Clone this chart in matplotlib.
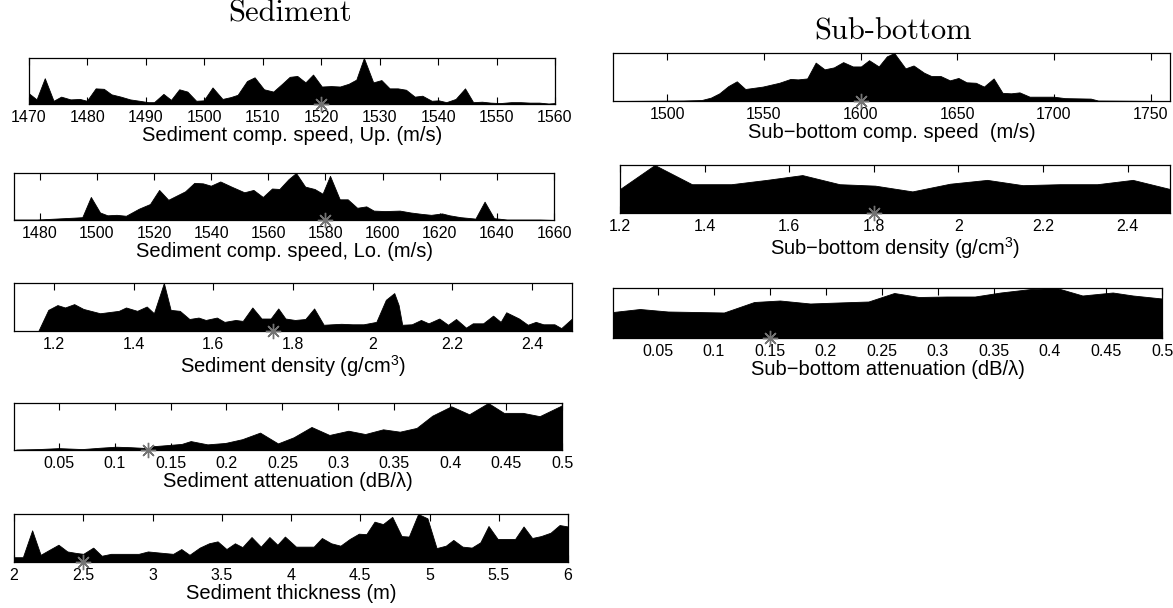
import matplotlib
matplotlib.use("Agg")
import matplotlib.pyplot as plt
from matplotlib.ticker import FormatStrFormatter

# ---- data (relative histogram heights) ----
sed_up_x = [1470.0, 1471.3, 1472.7, 1474.2, 1475.5, 1477.1, 1478.7, 1479.9, 1481.4, 1482.8,
            1484.1, 1485.7, 1487.3, 1488.9, 1490.4, 1491.4, 1493.0, 1494.3, 1495.7, 1497.1,
            1498.6, 1499.9, 1501.4, 1503.1, 1504.5, 1505.7, 1507.3, 1508.6, 1510.2, 1511.8,
            1513.4, 1514.6, 1515.9, 1517.3, 1518.6, 1520.1, 1521.7, 1523.2, 1524.7, 1526.0,
            1527.3, 1528.9, 1530.3, 1531.7, 1533.1, 1534.5, 1536.0, 1537.3, 1538.9, 1540.1,
            1541.4, 1543.0, 1544.6, 1546.0, 1547.5, 1549.0, 1550.6, 1552.5, 1554.1, 1555.7,
            1557.3, 1558.9, 1560.0]
sed_up_h = [0.23, 0.10, 0.56, 0.07, 0.16, 0.10, 0.11, 0.07, 0.34, 0.33,
            0.21, 0.16, 0.10, 0.07, 0.04, 0.04, 0.22, 0.09, 0.32, 0.27,
            0.07, 0.08, 0.36, 0.11, 0.15, 0.20, 0.50, 0.58, 0.32, 0.27,
            0.45, 0.59, 0.61, 0.47, 0.64, 0.38, 0.39, 0.38, 0.44, 0.53,
            1.00, 0.47, 0.52, 0.34, 0.34, 0.31, 0.16, 0.18, 0.07, 0.08,
            0.04, 0.11, 0.34, 0.04, 0.05, 0.03, 0.02, 0.04, 0.04, 0.03,
            0.03, 0.01, 0.02]
sed_up_true = 1520

sed_lo_x = [1471.1, 1479.1, 1485.6, 1492.0, 1494.9, 1497.9, 1501.1, 1503.7, 1506.9, 1510.2,
            1514.7, 1518.6, 1521.8, 1525.0, 1530.9, 1534.1, 1537.1, 1539.9, 1543.2, 1547.1,
            1551.6, 1554.8, 1558.1, 1561.3, 1563.9, 1567.1, 1569.7, 1572.9, 1576.2, 1579.0,
            1581.6, 1585.0, 1587.8, 1591.1, 1594.3, 1596.9, 1600.8, 1606.0, 1609.8, 1613.7,
            1617.0, 1620.8, 1623.4, 1627.3, 1632.5, 1635.7, 1639.0, 1643.5, 1650.0, 1655.1,
            1660.0]
sed_lo_h = [0.01, 0.01, 0.03, 0.05, 0.06, 0.49, 0.16, 0.10, 0.11, 0.09,
            0.24, 0.34, 0.64, 0.43, 0.61, 0.79, 0.78, 0.73, 0.82, 0.71,
            0.59, 0.64, 0.49, 0.67, 0.66, 0.87, 1.00, 0.71, 0.66, 0.56,
            0.94, 0.44, 0.44, 0.26, 0.29, 0.20, 0.19, 0.20, 0.16, 0.13,
            0.11, 0.14, 0.10, 0.06, 0.03, 0.39, 0.04, 0.01, 0.01, 0.01,
            0.00]
sed_lo_true = 1580

sed_rho_x = [1.161, 1.186, 1.209, 1.228, 1.251, 1.274, 1.316, 1.363, 1.381, 1.409,
             1.433, 1.451, 1.476, 1.493, 1.516, 1.540, 1.563, 1.581, 1.609, 1.628,
             1.656, 1.674, 1.698, 1.721, 1.744, 1.763, 1.781, 1.805, 1.831, 1.853,
             1.877, 1.898, 1.921, 1.949, 1.977, 2.009, 2.033, 2.054, 2.065, 2.074,
             2.098, 2.121, 2.140, 2.167, 2.189, 2.209, 2.234, 2.251, 2.277, 2.302,
             2.321, 2.335, 2.367, 2.389, 2.409, 2.428, 2.456, 2.473, 2.500]
sed_rho_h = [0.00, 0.44, 0.54, 0.49, 0.56, 0.46, 0.37, 0.42, 0.49, 0.42,
             0.51, 0.37, 1.00, 0.44, 0.42, 0.25, 0.28, 0.23, 0.28, 0.19,
             0.23, 0.21, 0.49, 0.26, 0.26, 0.47, 0.26, 0.23, 0.25, 0.47,
             0.13, 0.14, 0.15, 0.14, 0.14, 0.19, 0.65, 0.79, 0.54, 0.13,
             0.14, 0.23, 0.16, 0.26, 0.13, 0.25, 0.07, 0.16, 0.16, 0.32,
             0.19, 0.39, 0.26, 0.13, 0.19, 0.14, 0.14, 0.06, 0.26]
sed_rho_true = 1.75

sed_att_x = [0.012, 0.032, 0.050, 0.071, 0.088, 0.101, 0.114, 0.130, 0.134, 0.150,
             0.160, 0.168, 0.183, 0.199, 0.214, 0.230, 0.246, 0.260, 0.276, 0.292,
             0.309, 0.324, 0.340, 0.355, 0.370, 0.384, 0.401, 0.417, 0.434, 0.448,
             0.465, 0.480, 0.500]
sed_att_h = [0.01, 0.02, 0.04, 0.02, 0.05, 0.07, 0.06, 0.04, 0.08, 0.11,
             0.13, 0.19, 0.12, 0.15, 0.23, 0.37, 0.14, 0.27, 0.49, 0.32,
             0.41, 0.34, 0.44, 0.39, 0.47, 0.73, 0.93, 0.76, 1.00, 0.79,
             0.79, 0.72, 0.95]
sed_att_true = 0.13

sed_thk_x = [2.000, 2.064, 2.131, 2.192, 2.259, 2.321, 2.385, 2.446, 2.500, 2.572,
             2.633, 2.700, 2.767, 2.834, 2.900, 2.967, 3.074, 3.149, 3.208, 3.267,
             3.341, 3.408, 3.470, 3.534, 3.595, 3.649, 3.715, 3.782, 3.844, 3.902,
             3.956, 4.036, 4.164, 4.223, 4.290, 4.357, 4.424, 4.490, 4.544, 4.603,
             4.664, 4.731, 4.798, 4.851, 4.918, 4.985, 5.051, 5.118, 5.172, 5.238,
             5.305, 5.367, 5.426, 5.492, 5.559, 5.618, 5.679, 5.741, 5.805, 5.874,
             5.939, 6.000]
sed_thk_h = [0.10, 0.10, 0.66, 0.15, 0.26, 0.36, 0.22, 0.19, 0.17, 0.30,
             0.13, 0.17, 0.17, 0.17, 0.17, 0.22, 0.19, 0.17, 0.27, 0.15,
             0.30, 0.39, 0.43, 0.27, 0.39, 0.31, 0.52, 0.32, 0.52, 0.36,
             0.53, 0.32, 0.32, 0.50, 0.39, 0.34, 0.48, 0.59, 0.58, 0.84,
             0.79, 0.94, 0.54, 0.53, 1.00, 0.91, 0.29, 0.34, 0.46, 0.32,
             0.30, 0.41, 0.75, 0.48, 0.48, 0.48, 0.74, 0.50, 0.54, 0.61,
             0.77, 0.74]
sed_thk_true = 2.5

sub_c_x = [1472.2, 1508.2, 1517.8, 1522.6, 1527.0, 1531.6, 1536.0, 1540.4, 1549.4, 1558.0,
           1563.8, 1567.6, 1572.4, 1576.8, 1581.4, 1586.2, 1591.0, 1596.0, 1600.2, 1604.4,
           1609.4, 1613.6, 1617.4, 1623.2, 1627.4, 1632.8, 1636.6, 1641.4, 1646.2, 1650.6,
           1654.8, 1659.6, 1663.8, 1668.8, 1673.4, 1677.8, 1682.2, 1687.4, 1699.8, 1705.6,
           1719.0, 1722.8, 1760.0]
sub_c_h = [0.00, 0.01, 0.02, 0.07, 0.16, 0.31, 0.41, 0.25, 0.30, 0.38,
           0.46, 0.45, 0.47, 0.80, 0.66, 0.70, 0.81, 0.72, 0.72, 0.85,
           0.72, 0.93, 1.00, 0.68, 0.74, 0.59, 0.52, 0.52, 0.43, 0.48,
           0.39, 0.38, 0.30, 0.47, 0.17, 0.16, 0.18, 0.09, 0.09, 0.06,
           0.05, 0.01, 0.00]
sub_c_true = 1600

sub_rho_x = [1.200, 1.282, 1.370, 1.463, 1.547, 1.631, 1.719, 1.803, 1.891, 1.980,
             2.068, 2.152, 2.240, 2.328, 2.412, 2.500]
sub_rho_h = [0.50, 1.00, 0.60, 0.60, 0.69, 0.79, 0.60, 0.57, 0.45, 0.61,
             0.69, 0.58, 0.60, 0.60, 0.69, 0.50]
sub_rho_true = 1.8

sub_att_x = [0.010, 0.034, 0.059, 0.084, 0.109, 0.136, 0.159, 0.186, 0.211, 0.238,
             0.261, 0.283, 0.308, 0.333, 0.356, 0.383, 0.406, 0.429, 0.456, 0.474,
             0.500]
sub_att_h = [0.52, 0.58, 0.53, 0.52, 0.51, 0.72, 0.75, 0.69, 0.71, 0.73,
             0.90, 0.82, 0.83, 0.83, 0.91, 0.98, 1.00, 0.85, 0.91, 0.85,
             0.79]
sub_att_true = 0.15

W, H = 1173, 608
plt.rcParams['font.family'] = ['Liberation Sans', 'DejaVu Sans']
plt.rcParams['mathtext.fontset'] = 'custom'
plt.rcParams['mathtext.rm'] = 'Liberation Sans'
plt.rcParams['mathtext.it'] = 'Liberation Sans:italic'

fig = plt.figure(figsize=(W / 100, H / 100), dpi=100)


def panel(box, x, h, true_val, xlim, ticks, label):
    l, t, r, b = box
    ax = fig.add_axes([l / W, 1 - b / H, (r - l) / W, (b - t) / H])
    ax.fill_between(x, 0, h, color='black', lw=0.6)
    ax.set_xlim(xlim)
    ax.set_ylim(0, max(h))
    # true value marker sits on the lower axis line
    ax.plot([true_val], [0], ls='none', marker=(8, 2, 0), ms=11, mec='0.45',
            mew=1.0, clip_on=False, zorder=5)
    ax.set_yticks([])
    ax.set_xticks(ticks)
    ax.xaxis.set_major_formatter(FormatStrFormatter('%g'))
    ax.tick_params(axis='x', direction='in', top=True, bottom=True, length=5,
                   width=0.8, labelsize=11.5, pad=4)
    for s in ax.spines.values():
        s.set_linewidth(0.9)
    ax.set_xlabel(label, fontsize=14.5, labelpad=1)
    return ax


panel((29, 58, 555, 104), sed_up_x, sed_up_h, sed_up_true, (1470, 1560),
      [1470, 1480, 1490, 1500, 1510, 1520, 1530, 1540, 1550, 1560],
      'Sediment comp. speed, Up. (m/s)')
panel((14, 173, 554, 220), sed_lo_x, sed_lo_h, sed_lo_true, (1471, 1660),
      [1480, 1500, 1520, 1540, 1560, 1580, 1600, 1620, 1640, 1660],
      'Sediment comp. speed, Lo. (m/s)')
panel((14, 283, 572, 331), sed_rho_x, sed_rho_h, sed_rho_true, (1.1, 2.5),
      [1.2, 1.4, 1.6, 1.8, 2.0, 2.2, 2.4],
      'Sediment density (g/cm$^{3}$)')
panel((14, 403, 562, 450), sed_att_x, sed_att_h, sed_att_true, (0.01, 0.5),
      [0.05, 0.1, 0.15, 0.2, 0.25, 0.3, 0.35, 0.4, 0.45, 0.5],
      'Sediment attenuation (dB/λ)')
panel((14, 514, 568, 562), sed_thk_x, sed_thk_h, sed_thk_true, (2, 6),
      [2, 2.5, 3, 3.5, 4, 4.5, 5, 5.5, 6],
      'Sediment thickness (m)')

panel((613, 53, 1170, 101), sub_c_x, sub_c_h, sub_c_true, (1472, 1760),
      [1500, 1550, 1600, 1650, 1700, 1750],
      'Sub\u2212bottom comp. speed  (m/s)')
panel((620, 165, 1170, 213), sub_rho_x, sub_rho_h, sub_rho_true, (1.2, 2.5),
      [1.2, 1.4, 1.6, 1.8, 2.0, 2.2, 2.4],
      'Sub\u2212bottom density (g/cm$^{3}$)')
panel((613, 288, 1162, 338), sub_att_x, sub_att_h, sub_att_true, (0.01, 0.5),
      [0.05, 0.1, 0.15, 0.2, 0.25, 0.3, 0.35, 0.4, 0.45, 0.5],
      'Sub\u2212bottom attenuation (dB/λ)')

fig.text(290 / W, 1 - 21 / H, 'Sediment', family='cmr10', fontsize=22,
         ha='center', va='baseline')
fig.text(893 / W, 1 - 39 / H, 'Sub-bottom', family='cmr10', fontsize=22,
         ha='center', va='baseline')

fig.savefig('out.png', dpi=100)
